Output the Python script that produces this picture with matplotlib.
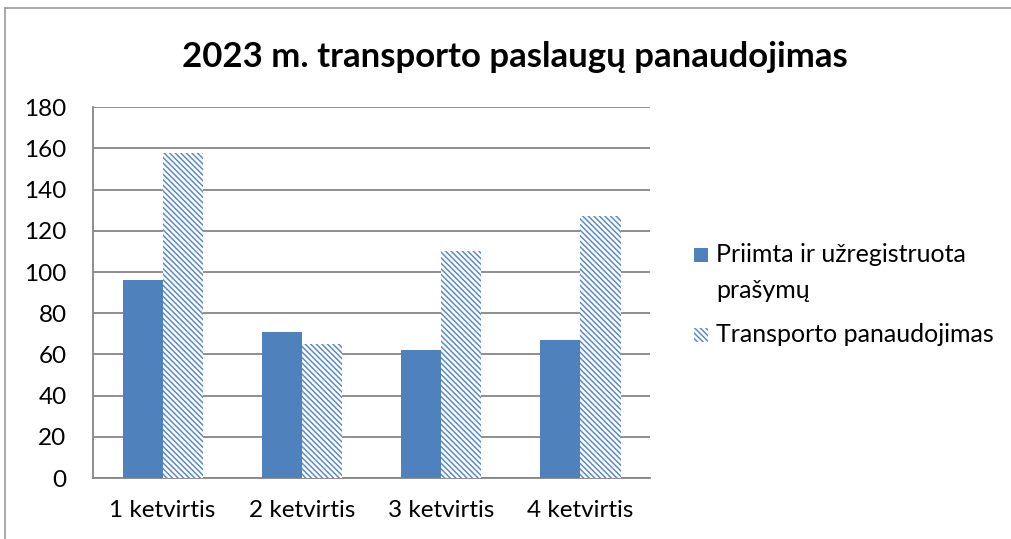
import numpy as np
import matplotlib
matplotlib.use("Agg")
import matplotlib.pyplot as plt
from matplotlib.lines import Line2D
from matplotlib.patches import Rectangle

# ---------------------------------------------------------
# Duomenys
# ---------------------------------------------------------
ketvirciai = ["1 ketvirtis", "2 ketvirtis", "3 ketvirtis", "4 ketvirtis"]
prasymai = [96, 71, 62, 67]
transportas = [158, 65, 110, 127]
serijos = ["Priimta ir užregistruota\nprašymų", "Transporto panaudojimas"]
y_ticks = [0, 20, 40, 60, 80, 100, 120, 140, 160, 180]

plt.rcParams['font.family'] = ['Lato', 'DejaVu Sans']
plt.rcParams['hatch.linewidth'] = 1.1
plt.rcParams['hatch.color'] = '#5B8BCB'

blue = '#4F81BD'
hatch_c = '#5B8BCB'
grid_c = '#868686'
hatch = '\\\\\\\\\\\\'

fig = plt.figure(figsize=(10.11, 5.39), dpi=100)
ax = fig.add_axes([0.092, 0.113, 0.551, 0.688])

x = np.arange(len(ketvirciai))
w = 0.288
ax.bar(x - w / 2, prasymai, w, color=blue, edgecolor=blue, linewidth=0, zorder=3)
ax.bar(x + w / 2, transportas, w, color='white', edgecolor=hatch_c,
       hatch=hatch, linewidth=0, zorder=3)

ax.set_xlim(-0.5, len(ketvirciai) - 0.5)
ax.set_ylim(0, 180)
ax.set_yticks(y_ticks)
ax.set_xticks(x)
ax.set_xticklabels(ketvirciai)
ax.tick_params(axis='both', length=0, labelsize=17.5, colors='black')
ax.tick_params(axis='x', pad=16)
ax.tick_params(axis='y', pad=19)
ax.yaxis.grid(True, color=grid_c, linewidth=1.3, zorder=0)
ax.set_axisbelow(True)
for s in ['top', 'right']:
    ax.spines[s].set_visible(False)
for s in ['left', 'bottom']:
    ax.spines[s].set_color(grid_c)
    ax.spines[s].set_linewidth(1.3)

fig.text(0.509, 0.895, "2023 m. transporto paslaugų panaudojimas",
         ha='center', va='center', fontsize=25, fontweight='bold')

# legenda (zymeklis ties pirma eilute, kaip Excel)
H = 539.0
W = 1011.0
leg_rows = [255, 335]           # pirmos eilutes centras, px nuo virsaus
line_step = 35
styles = [dict(facecolor=blue, edgecolor=blue),
          dict(facecolor='white', edgecolor=hatch_c, hatch=hatch)]
for label, y0, st in zip(serijos, leg_rows, styles):
    fig.add_artist(Rectangle((694 / W, 1 - (y0 + 7) / H), 14 / W, 14 / H,
                             linewidth=0, transform=fig.transFigure, **st))
    for i, part in enumerate(label.split("\n")):
        fig.text(716 / W, 1 - (y0 + i * line_step) / H, part,
                 ha='left', va='center', fontsize=18)

# remelis aplink diagrama
fig.add_artist(Line2D([0.005, 0.005], [0.0, 0.985], color='#9a9a9a', lw=1.2,
                      transform=fig.transFigure))
fig.add_artist(Line2D([0.005, 1.0], [0.985, 0.985], color='#9a9a9a', lw=1.2,
                      transform=fig.transFigure))

fig.savefig("out.png", dpi=100)
